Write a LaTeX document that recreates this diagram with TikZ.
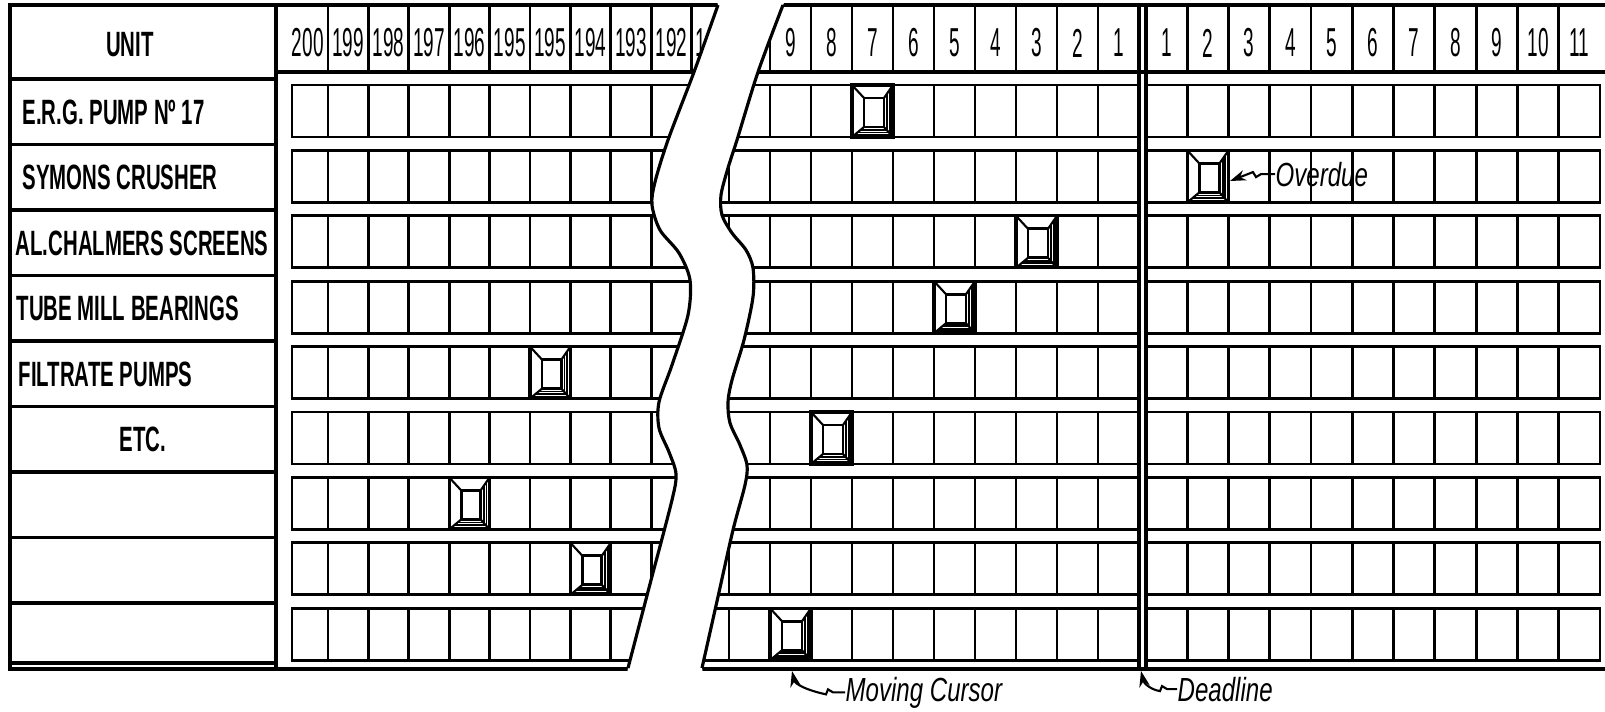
\documentclass[tikz,border=0pt]{standalone}
\usepackage{fontspec}
\setmainfont{Liberation Sans}
\newfontfamily\lblfont{Liberation Sans}[FakeStretch=0.58]
\newfontfamily\numfont{Liberation Sans}[FakeStretch=0.47]
\newfontfamily\tagfont{Liberation Sans}[FakeStretch=0.72]
\usetikzlibrary{arrows.meta}
\tikzset{
  outln/.style={line width=0.9pt},
  gridln/.style={line width=0.8pt},
  brk/.style={line width=0.9pt},
  unitlbl/.style={font=\lblfont\bfseries\fontsize{10}{11}\selectfont, inner sep=0pt},
  rowlbl/.style={unitlbl, anchor=west},
  hdrnum/.style={font=\numfont\fontsize{11.5}{12}\selectfont, inner sep=0pt},
  tagtxt/.style={font=\tagfont\itshape\fontsize{9.5}{10}\selectfont, inner sep=0pt, anchor=base west},
  ptr/.style={-{Stealth[length=4.5pt,width=3pt]}, line width=0.6pt}}
% bevelled cursor window in one cell: left x, right x, top y
\newcommand\tabwin[3]{%
  \draw[line width=0.9pt] (#1,#3) rectangle (#2,{#3+52});
  \draw[line width=0.8pt] ({#1+12},{#3+13}) rectangle ({#2-9},{#3+42});
  \draw[line width=0.6pt] (#1,#3) -- ({#1+12},{#3+13}) (#2,#3) -- ({#2-9},{#3+13})
    (#1,{#3+52}) -- ({#1+12},{#3+42}) (#2,{#3+52}) -- ({#2-9},{#3+42});
  \foreach \s in {0.3,0.55,0.8}
    \draw[line width=0.5pt] ({#1+12*(1-\s)},{#3+42+10*\s}) -- ({#2-9*(1-\s)},{#3+42+10*\s});
  \foreach \s in {0.35,0.65}
    \draw[line width=0.5pt] ({#2-9*(1-\s)},{#3+13*(1-\s)}) -- ({#2-9*(1-\s)},{#3+42+10*\s});
}
\begin{document}
\begin{tikzpicture}[x=0.01cm, y=-0.01cm]
  \fill[white] (0,0) rectangle (1605,711);
  \useasboundingbox (0,0) rectangle (1605,711);
  % unit column
  \draw[outln] (10,5) rectangle (276,669);
  \foreach \k in {0,...,8} \draw[outln] (10,{79+65.5*\k}) -- (276,{79+65.5*\k});
  \draw[outln] (10,663) -- (276,663);
  \draw[outln] (10,669) -- (1605,669);
  % header strip
  \draw[outln] (276,5) -- (1605,5);
  \draw[outln] (276,72) -- (1605,72);
  \foreach \k in {0,...,9} \draw[gridln] ({328+40.4*\k},5) -- ++(0,67);
  \foreach \k in {-1,...,8} \draw[gridln] ({770+41*\k},5) -- ++(0,67);
  \foreach \k in {1,...,10} \draw[gridln] ({1146+41.27*\k},5) -- ++(0,67);
  % unit rows
  \foreach \r in {0,...,8}{
    \draw[gridln] (292,{85+65.4*\r}) rectangle (1139,{137+65.4*\r});
    \draw[gridln] (1146,{85+65.4*\r}) rectangle (1600,{137+65.4*\r});
    \foreach \k in {0,...,9} \draw[gridln] ({328+40.4*\k},{85+65.4*\r}) -- ++(0,52);
    \foreach \k in {-1,...,8} \draw[gridln] ({770+41*\k},{85+65.4*\r}) -- ++(0,52);
    \foreach \k in {1,...,10} \draw[gridln] ({1146+41.27*\k},{85+65.4*\r}) -- ++(0,52);
  }
  % deadline
  \draw[line width=1pt] (1139,5) -- (1139,669);
  \draw[line width=1.3pt] (1146,5) -- (1146,669);
  % day numbers
  \foreach \n [count=\i from 0] in {200,199,198,197,196,195,195,194,193,192,191}
    \node[hdrnum] (dl\i) at ({307.8+40.4*\i},43) {\n};
  \foreach \n [count=\i from 0] in {9,8,7,6,5,4,3,2,1}
    \node[hdrnum] (dm\i) at ({790.5+41*\i},43) {\n};
  \foreach \n [count=\i from 0] in {1,2,3,4,5,6,7,8,9,10,11}
    \node[hdrnum] (dr\i) at ({1166.6+41.27*\i},43) {\n};
  % unit names
  \node[unitlbl] (unit) at (130,45) {UNIT};
  \node[rowlbl] (u1) at (22,112) {E.R.G. PUMP Nº 17};
  \node[rowlbl] (u2) at (22,177) {SYMONS CRUSHER};
  \node[rowlbl] (u3) at (15,243) {AL.CHALMERS SCREENS};
  \node[rowlbl] (u4) at (16,308) {TUBE MILL BEARINGS};
  \node[rowlbl] (u5) at (18,374) {FILTRATE PUMPS};
  \node[unitlbl] (u6) at (143,439) {ETC.};
  % cursors
  \tabwin{852}{893}{85}
  \tabwin{1187.3}{1228.5}{150.4}
  \tabwin{1016}{1057}{215.8}
  \tabwin{934}{975}{281.2}
  \tabwin{530}{570.4}{346.6}
  \tabwin{811}{852}{412}
  \tabwin{449.2}{489.6}{477.4}
  \tabwin{570.4}{610.8}{542.8}
  \tabwin{770}{811}{608.2}
  % break in the board
  \fill[white] (716,-2) -- plot[smooth] coordinates {(718,5) (694,72) (668,140) (655,182) (652,205) (660,230) (679,253) (690,280) (688,315) (672,365) (659,402) (659,428) (669,452) (676,474) (672,500) (650,584) (628,668)}
    -- (626,680) -- (704,680) -- plot[smooth] coordinates {(702,668) (717.5,599) (733,530) (745,485) (747,465) (740,445) (730,423) (728,402) (732,380) (744,340) (753,297) (753,268) (746,250) (732,233) (722,215) (721,195) (728,168) (737,140) (758,72) (783,5)}
    -- (786,-2) -- cycle;
  \draw[brk] plot[smooth] coordinates {(718,5) (694,72) (668,140) (655,182) (652,205) (660,230) (679,253) (690,280) (688,315) (672,365) (659,402) (659,428) (669,452) (676,474) (672,500) (650,584) (628,668)};
  \draw[brk] plot[smooth] coordinates {(702,668) (717.5,599) (733,530) (745,485) (747,465) (740,445) (730,423) (728,402) (732,380) (744,340) (753,297) (753,268) (746,250) (732,233) (722,215) (721,195) (728,168) (737,140) (758,72) (783,5)};
  % call-outs
  \node[tagtxt] (od) at (1275,186) {Overdue};
  \node[tagtxt] (mc) at (845,701) {Moving Cursor};
  \node[tagtxt] (dd) at (1177,701) {Deadline};
  \coordinate (odtip) at (1230,181);
  \coordinate (mctip) at (792,671);
  \coordinate (ddtip) at (1141,671);
  \draw[ptr] (od.west) -- ++(-14,0) -- ++(-5,3) -- ++(-3,-5) -- (odtip);
  \draw[ptr] (mc.west) -- ++(-12,0) -- ++(-5,-3) -- ++(-2,5) .. controls (806,690) and (795,684) .. (mctip);
  \draw[ptr] (dd.west) -- ++(-10,0) -- ++(-5,-3) -- ++(-2,5) .. controls (1152,690) and (1144,684) .. (ddtip);
\end{tikzpicture}
\end{document}
